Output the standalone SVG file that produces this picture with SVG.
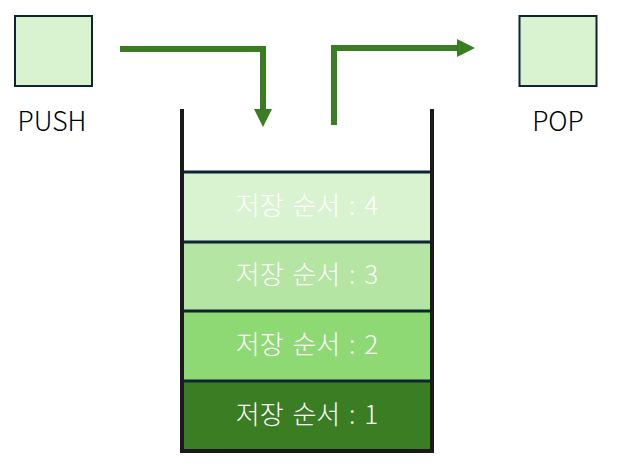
<svg xmlns="http://www.w3.org/2000/svg" width="618" height="468" viewBox="0 0 618 468">
<style>
.box{fill:#d9f2d0;stroke:#0d2533;stroke-width:2}
.lbl{font-family:"Noto Sans CJK KR","Noto Sans",sans-serif;font-size:26.5px;font-weight:300;fill:#000;text-anchor:middle}
.layer{stroke:none}
.sep{stroke:#0d2533;stroke-width:3}
.wall{stroke:#1a1a1a;stroke-width:4;fill:none}
.kt{font-family:"Noto Sans CJK KR","Noto Sans",sans-serif;font-size:26px;font-weight:300;word-spacing:3px;fill:#fff;text-anchor:middle}
.conn{stroke:#3b7d23;stroke-width:6;fill:none}
</style>
<defs>
<marker id="ah" markerUnits="userSpaceOnUse" markerWidth="18" markerHeight="18" refX="0" refY="9" orient="auto" viewBox="0 0 18 18">
<path d="M0,0 L18,9 L0,18 Z" fill="#3b7d23"/>
</marker>
</defs>
<g id="push">
<rect class="box" x="15" y="16" width="77" height="70"/>
<text class="lbl" x="52" y="131">PUSH</text>
</g>
<g id="pop">
<rect class="box" x="519.5" y="16" width="77" height="70"/>
<text class="lbl" x="558" y="131">POP</text>
</g>
<g id="layer4">
<rect class="layer" x="184" y="172" width="246" height="70" fill="#d9f2d0"/>
<text class="kt" x="307" y="215">저장 순서 : 4</text>
</g>
<g id="layer3">
<rect class="layer" x="184" y="242" width="246" height="69" fill="#b4e5a2"/>
<text class="kt" x="307" y="284">저장 순서 : 3</text>
</g>
<g id="layer2">
<rect class="layer" x="184" y="311" width="246" height="70" fill="#8ed973"/>
<text class="kt" x="307" y="354">저장 순서 : 2</text>
</g>
<g id="layer1">
<rect class="layer" x="184" y="381" width="246" height="69" fill="#3b7d23"/>
<text class="kt" x="307" y="424">저장 순서 : 1</text>
</g>
<g id="stack">
<line class="sep" x1="184" y1="172" x2="430" y2="172"/>
<line class="sep" x1="184" y1="242" x2="430" y2="242"/>
<line class="sep" x1="184" y1="311" x2="430" y2="311"/>
<line class="sep" x1="184" y1="381" x2="430" y2="381"/>
<path class="wall" d="M182,109 V451 H432 V109"/>
</g>
<g id="connectors">
<path class="conn" d="M120,49 H263 V109" marker-end="url(#ah)"/>
<path class="conn" d="M334,125 V48 H457" marker-end="url(#ah)"/>
</g>
</svg>
